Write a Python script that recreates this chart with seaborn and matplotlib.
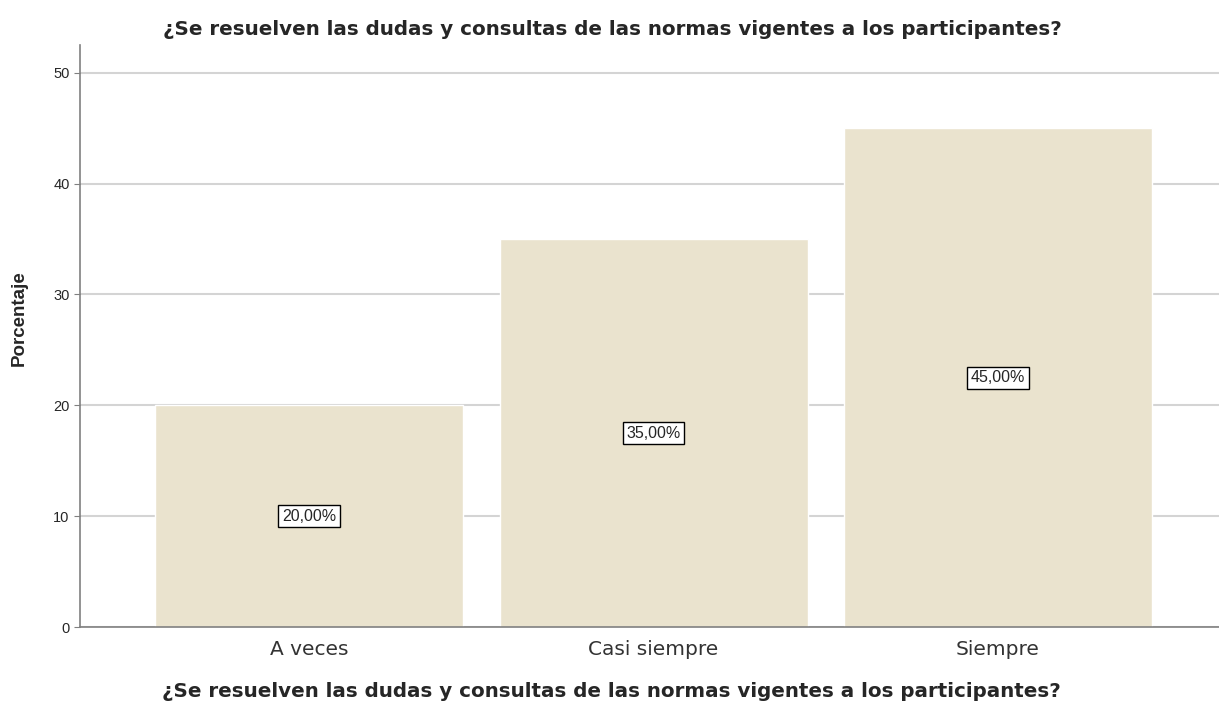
import matplotlib
matplotlib.use("Agg")
import matplotlib.pyplot as plt
import seaborn as sns
import pandas as pd

categories = ["A veces", "Casi siempre", "Siempre"]
percentages = [20.0, 35.0, 45.0]
value_labels = ["20,00%", "35,00%", "45,00%"]
title_text = "¿Se resuelven las dudas y consultas de las normas vigentes a los participantes?"
y_ticks = [0, 10, 20, 30, 40, 50]


def main():
    sns.set_style("white")
    plt.rcParams["font.family"] = ["Liberation Sans", "DejaVu Sans"]

    df = pd.DataFrame({"categoria": categories, "porcentaje": percentages})

    fig = plt.figure(figsize=(12.19, 7.10), dpi=100)
    ax = fig.add_axes([0.0656, 0.1169, 0.934, 0.8197])

    sns.barplot(data=df, x="categoria", y="porcentaje", color="#EAE3CE",
                saturation=1, width=0.894, ax=ax, zorder=2)

    ax.set_ylim(0, 52.5)
    ax.set_xlim(-0.665, 2.64)
    ax.set_yticks(y_ticks)
    ax.yaxis.grid(True, color="#D4D4D4", linewidth=1.5, zorder=0)
    ax.set_axisbelow(True)

    for s in ["top", "right"]:
        ax.spines[s].set_visible(False)
    for s in ["left", "bottom"]:
        ax.spines[s].set_color("#808080")
        ax.spines[s].set_linewidth(1.2)

    ax.tick_params(axis="y", labelsize=10.5, length=4, color="#808080", left=True)
    ax.tick_params(axis="x", labelsize=14.5, length=0, pad=9)
    for lbl in ax.get_xticklabels():
        lbl.set_color("#333333")
        lbl.set_family(["DejaVu Sans"])

    # labels centred in each bar
    for i, (val, txt) in enumerate(zip(percentages, value_labels)):
        ax.text(i, val / 2, txt, ha="center", va="center", fontsize=11.5,
                bbox=dict(boxstyle="square,pad=0.22", facecolor="white",
                          edgecolor="black", linewidth=1.0), zorder=5)

    ax.set_ylabel("Porcentaje", fontsize=13.5, fontweight="bold")
    ax.yaxis.set_label_coords(-0.0457, 0.531)
    ax.set_xlabel(title_text, fontsize=14.3, fontweight="bold",
                  family=["DejaVu Sans"])
    ax.xaxis.set_label_coords(0.467, -0.094)
    fig.text(0.502, 0.958, title_text, ha="center", va="center",
             fontsize=14.3, fontweight="bold", family=["DejaVu Sans"])

    fig.savefig("out.png", dpi=100)
    plt.close(fig)


if __name__ == "__main__":
    main()
